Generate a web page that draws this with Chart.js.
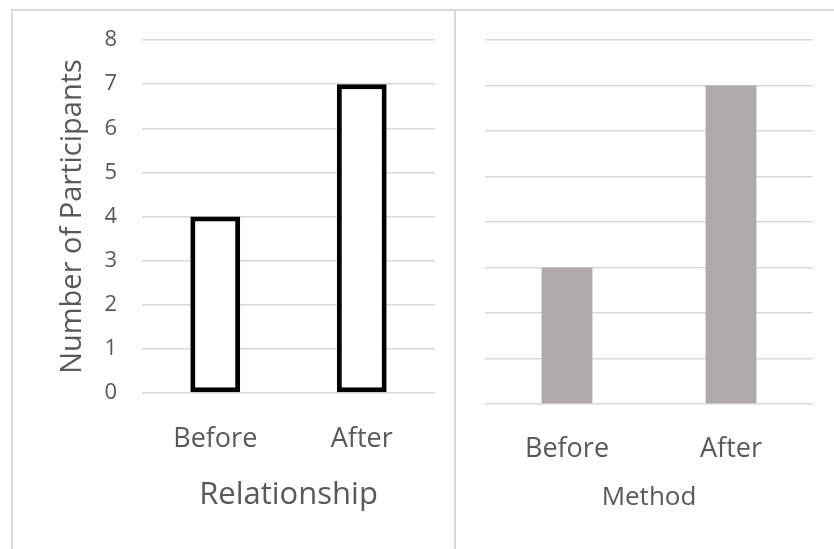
<!DOCTYPE html>
<html>
<head>
<meta charset="utf-8">
<script src="https://cdn.jsdelivr.net/npm/chart.js@4"></script>
<style>
  html, body { margin: 0; padding: 0; background: #fff; }
  body { width: 834px; height: 549px; position: relative; overflow: hidden; }
  .panel { position: absolute; box-sizing: border-box; border: 2px solid #d9d9d9; }
  #panelLeft { left: 11px; top: 9px; width: 445px; height: 560px; }
  #panelRight { left: 454px; top: 9px; width: 400px; height: 560px; }
  .holder { position: absolute; }
  #holderLeft { left: 12px; top: 10px; width: 443px; height: 539px; }
  #holderRight { left: 456px; top: 10px; width: 378px; height: 539px; }
</style>
</head>
<body>
<div class="panel" id="panelLeft"></div>
<div class="panel" id="panelRight"></div>
<div class="holder" id="holderLeft"><canvas id="relationshipChart"></canvas></div>
<div class="holder" id="holderRight"><canvas id="methodChart"></canvas></div>
<script>
// Participant counts before and after, for two measures
const categories = ['Before', 'After'];
const relationshipCounts = [4, 7];
const methodCounts = [3, 7];
const yTickValues = [0, 1, 2, 3, 4, 5, 6, 7, 8];

const FONT = '"Open Sans", "Noto Sans", sans-serif';
const TEXT = '#595959';
const GRID = '#d9d9d9';

Chart.defaults.font.family = FONT;
Chart.defaults.color = TEXT;
Chart.defaults.animation = false;

function fixWidth(w) { return (scale) => { scale.width = w; }; }
function fixHeight(h) { return (scale) => { scale.height = h; }; }

new Chart(document.getElementById('relationshipChart'), {
  type: 'bar',
  data: {
    labels: categories,
    datasets: [{
      data: relationshipCounts,
      backgroundColor: '#ffffff',
      borderColor: '#000000',
      borderWidth: 5,
      borderSkipped: false,
      categoryPercentage: 1,
      barPercentage: 0.34
    }]
  },
  options: {
    responsive: true,
    maintainAspectRatio: false,
    layout: { padding: { left: 43, right: 20, top: 30, bottom: 0 } },
    plugins: { legend: { display: false }, tooltip: { enabled: false } },
    scales: {
      x: {
        grid: { display: false },
        border: { display: false },
        ticks: { font: { size: 27 }, padding: 22, color: TEXT },
        title: { display: true, text: 'Relationship', font: { size: 31 }, color: TEXT, padding: { top: 0, bottom: 35 } },
        afterFit: fixHeight(156)
      },
      y: {
        min: 0,
        max: 8,
        afterBuildTicks: (scale) => { scale.ticks = yTickValues.map(v => ({ value: v })); },
        // invisible tick marks keep the labels clear of the plot
        grid: { color: GRID, lineWidth: 1.5, drawTicks: true, tickLength: 25, tickColor: 'rgba(0,0,0,0)' },
        border: { display: false },
        ticks: { font: { size: 22 }, padding: 0, color: TEXT },
        title: { display: true, text: 'Number of Participants', font: { size: 29 }, color: TEXT, padding: { top: 0, bottom: 0 } },
        afterFit: fixWidth(87)
      }
    }
  }
});

new Chart(document.getElementById('methodChart'), {
  type: 'bar',
  data: {
    labels: categories,
    datasets: [{
      data: methodCounts,
      backgroundColor: '#aeaaaa',
      borderWidth: 0,
      categoryPercentage: 1,
      barPercentage: 0.31
    }]
  },
  options: {
    responsive: true,
    maintainAspectRatio: false,
    layout: { padding: { left: 29, right: 21, top: 30, bottom: 0 } },
    plugins: { legend: { display: false }, tooltip: { enabled: false } },
    scales: {
      x: {
        grid: { display: false },
        border: { display: false },
        ticks: { font: { size: 27 }, padding: 21, color: TEXT },
        title: { display: true, text: 'Method', font: { size: 26 }, color: TEXT, padding: { top: 0, bottom: 36 } },
        afterFit: fixHeight(145)
      },
      y: {
        min: 0,
        max: 8,
        afterBuildTicks: (scale) => { scale.ticks = yTickValues.map(v => ({ value: v })); },
        grid: { color: GRID, lineWidth: 1.5, drawTicks: false },
        border: { display: false },
        ticks: { display: false },
        afterFit: fixWidth(0)
      }
    }
  }
});
</script>
</body>
</html>
